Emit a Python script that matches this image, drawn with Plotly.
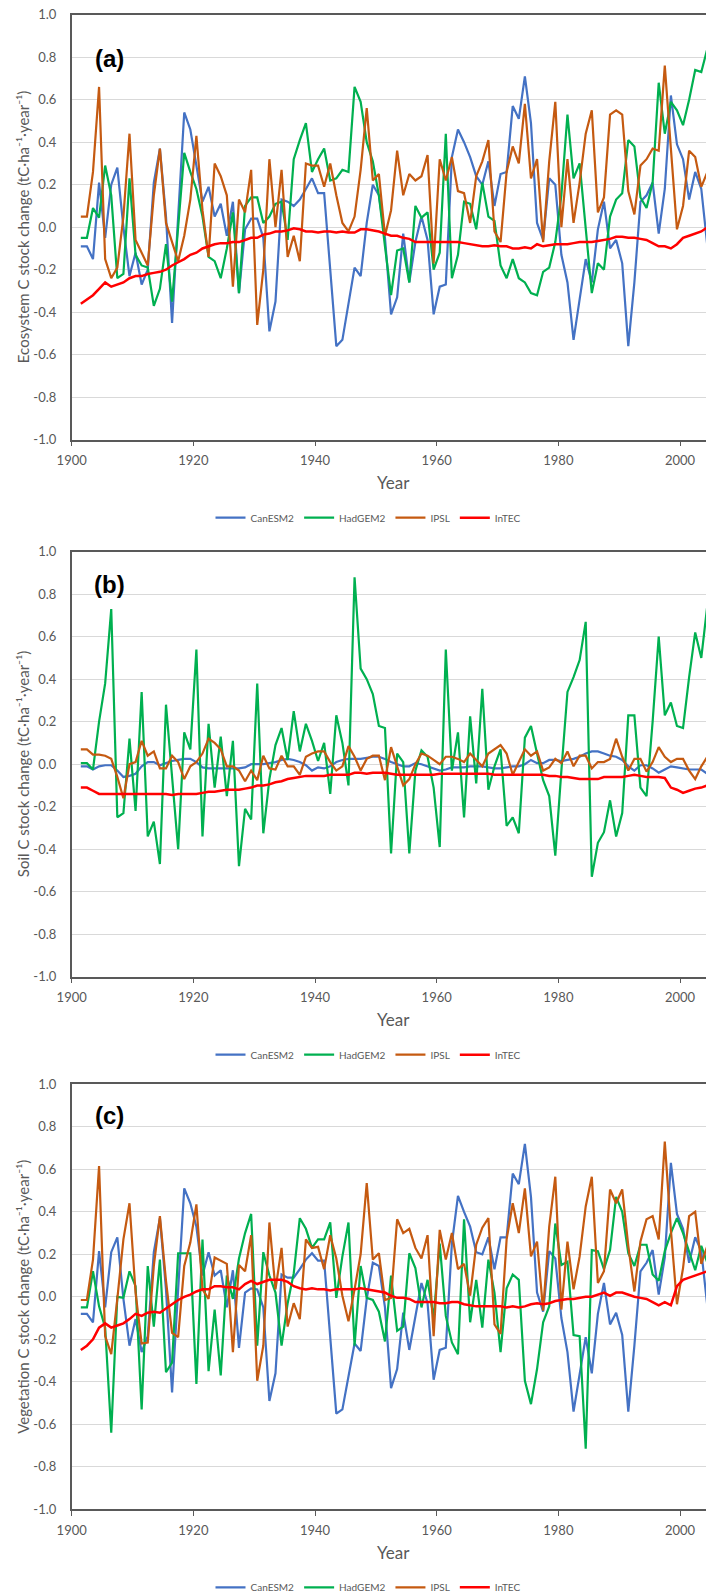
import plotly.graph_objects as go

# ---------------- data ----------------
years = list(range(1901, 2005))
series_names = ["CanESM2", "HadGEM2", "IPSL", "InTEC"]
tick_years = [1900, 1920, 1940, 1960, 1980, 2000]
tick_years_text = ["1900", "1920", "1940", "1960", "1980", "2000"]
y_ticks = [-1.0, -0.8, -0.6, -0.4, -0.2, 0.0, 0.2, 0.4, 0.6, 0.8, 1.0]
y_ticks_text = ["-1.0", "-0.8", "-0.6", "-0.4", "-0.2", "0.0", "0.2", "0.4", "0.6", "0.8", "1.0"]

# (a) Ecosystem C stock change
eco_canesm2 = [
    -0.09, -0.09, -0.15, 0.21, -0.05, 0.20, 0.28, 0.00, -0.23, -0.12,
    -0.27, -0.20, 0.21, 0.37, 0.05, -0.45, 0.05, 0.54, 0.46, 0.30,
    0.12, 0.19, 0.05, 0.11, -0.04, 0.12, -0.31, -0.01, 0.04, 0.04,
    -0.05, -0.49, -0.35, 0.13, 0.12, 0.10, 0.13, 0.18, 0.23, 0.16,
    0.16, -0.20, -0.56, -0.53, -0.35, -0.19, -0.23, 0.02, 0.20, 0.15,
    -0.05, -0.41, -0.33, -0.03, -0.26, -0.07, 0.05, -0.06, -0.41, -0.28,
    -0.27, 0.33, 0.46, 0.40, 0.33, 0.24, 0.20, 0.31, 0.10, 0.25,
    0.26, 0.57, 0.51, 0.71, 0.49, 0.02, -0.06, 0.23, 0.20, -0.13,
    -0.26, -0.53, -0.34, -0.15, -0.26, -0.01, 0.12, -0.10, -0.06, -0.17,
    -0.56, -0.26, 0.12, 0.15, 0.21, -0.03, 0.18, 0.62, 0.39, 0.32,
    0.13, 0.26, 0.18, -0.09]
eco_hadgem2 = [
    -0.05, -0.05, 0.09, 0.045, 0.29, 0.15, -0.24, -0.22, 0.23, -0.13,
    -0.18, -0.19, -0.37, -0.29, -0.08, -0.35, 0.00, 0.35, 0.26, 0.18,
    0.05, -0.14, -0.16, -0.24, -0.10, 0.07, -0.31, 0.10, 0.14, 0.14,
    0.02, 0.05, 0.11, 0.12, -0.06, 0.32, 0.41, 0.49, 0.26, 0.32,
    0.37, 0.22, 0.23, 0.27, 0.26, 0.66, 0.59, 0.40, 0.31, 0.15,
    -0.09, -0.32, -0.11, -0.10, -0.26, 0.10, 0.045, 0.07, -0.20, -0.12,
    0.44, -0.24, -0.13, 0.12, 0.11, -0.01, 0.21, 0.05, 0.03, -0.18,
    -0.24, -0.15, -0.24, -0.26, -0.31, -0.32, -0.21, -0.19, -0.07, 0.15,
    0.53, 0.23, 0.30, -0.02, -0.31, -0.17, -0.20, 0.05, 0.13, 0.16,
    0.41, 0.38, 0.14, 0.09, 0.21, 0.68, 0.44, 0.59, 0.55, 0.48,
    0.60, 0.74, 0.73, 0.84]
eco_ipsl = [
    0.05, 0.05, 0.26, 0.66, -0.15, -0.24, -0.19, 0.05, 0.44, -0.06,
    -0.12, -0.18, 0.15, 0.37, 0.02, -0.07, -0.16, -0.04, 0.13, 0.43,
    0.08, -0.14, 0.30, 0.24, 0.15, -0.28, 0.13, 0.07, 0.27, -0.46,
    -0.20, 0.32, 0.00, 0.27, -0.14, -0.04, -0.16, 0.30, 0.29, 0.29,
    0.19, 0.30, 0.15, 0.02, -0.02, 0.05, 0.27, 0.56, 0.22, 0.25,
    -0.04, 0.08, 0.36, 0.15, 0.25, 0.22, 0.24, 0.34, -0.17, 0.32,
    0.22, 0.33, 0.17, 0.16, 0.02, 0.24, 0.31, 0.41, -0.02, -0.07,
    0.26, 0.38, 0.30, 0.58, 0.23, 0.32, -0.07, 0.31, 0.59, 0.00,
    0.32, 0.02, 0.21, 0.44, 0.55, 0.07, 0.14, 0.53, 0.55, 0.53,
    0.17, 0.06, 0.29, 0.32, 0.37, 0.36, 0.76, 0.37, -0.01, 0.10,
    0.36, 0.33, 0.19, 0.26]
eco_intec = [
    -0.36, -0.34, -0.32, -0.29, -0.26, -0.28, -0.27, -0.26, -0.24, -0.23,
    -0.23, -0.22, -0.215, -0.21, -0.20, -0.18, -0.165, -0.15, -0.13, -0.12,
    -0.10, -0.09, -0.08, -0.075, -0.075, -0.07, -0.07, -0.06, -0.05, -0.05,
    -0.035, -0.03, -0.02, -0.02, -0.015, -0.005, -0.01, -0.02, -0.02, -0.025,
    -0.02, -0.02, -0.025, -0.02, -0.025, -0.025, -0.01, -0.01, -0.015, -0.02,
    -0.03, -0.04, -0.04, -0.05, -0.055, -0.07, -0.07, -0.07, -0.07, -0.07,
    -0.07, -0.07, -0.07, -0.075, -0.08, -0.085, -0.09, -0.09, -0.085, -0.09,
    -0.09, -0.10, -0.10, -0.095, -0.10, -0.08, -0.09, -0.085, -0.08, -0.08,
    -0.08, -0.075, -0.07, -0.07, -0.07, -0.065, -0.06, -0.055, -0.045, -0.045,
    -0.05, -0.05, -0.055, -0.06, -0.075, -0.09, -0.09, -0.10, -0.08, -0.05,
    -0.04, -0.03, -0.02, 0.00]

# (b) Soil C stock change
soil_canesm2 = [
    -0.01, -0.01, -0.025, -0.01, -0.005, -0.005, -0.03, -0.06, -0.055, -0.045,
    -0.01, 0.01, 0.01, -0.005, 0.005, 0.015, 0.02, 0.025, 0.025, 0.01,
    -0.015, -0.02, -0.02, -0.02, -0.02, -0.02, -0.02, -0.015, 0.00, 0.00,
    0.00, 0.005, 0.01, 0.02, 0.025, 0.02, 0.01, -0.005, -0.03, -0.015,
    -0.02, -0.01, 0.01, 0.02, 0.025, 0.025, 0.025, 0.03, 0.035, 0.035,
    0.025, 0.01, 0.00, -0.01, -0.01, 0.005, 0.00, -0.01, -0.02, -0.03,
    -0.025, -0.015, -0.015, -0.015, -0.01, -0.01, -0.01, -0.015, -0.02, -0.02,
    -0.015, -0.01, -0.01, 0.00, 0.02, 0.005, 0.005, 0.02, 0.02, 0.015,
    0.02, 0.025, 0.035, 0.05, 0.06, 0.06, 0.05, 0.04, 0.035, 0.02,
    -0.01, -0.03, -0.005, -0.005, -0.02, -0.04, -0.025, -0.01, -0.015, -0.02,
    -0.025, -0.025, -0.025, -0.045]
soil_hadgem2 = [
    0.005, 0.005, -0.025, 0.20, 0.38, 0.73, -0.25, -0.23, 0.12, -0.22,
    0.34, -0.34, -0.27, -0.47, 0.28, -0.075, -0.40, 0.15, 0.07, 0.54,
    -0.34, 0.19, -0.11, 0.13, -0.15, 0.11, -0.48, -0.21, -0.26, 0.38,
    -0.325, -0.07, 0.09, 0.17, 0.02, 0.25, 0.06, 0.19, 0.11, 0.015,
    0.10, -0.14, 0.23, 0.10, -0.10, 0.88, 0.45, 0.40, 0.33, 0.18,
    0.17, -0.42, 0.05, 0.01, -0.42, -0.03, 0.065, 0.035, -0.11, -0.39,
    0.54, -0.03, 0.15, -0.25, 0.225, -0.09, 0.355, -0.12, -0.01, 0.07,
    -0.29, -0.25, -0.325, 0.125, 0.18, 0.05, -0.075, -0.15, -0.43, -0.03,
    0.34, 0.41, 0.49, 0.67, -0.53, -0.37, -0.32, -0.17, -0.34, -0.23,
    0.23, 0.23, -0.11, -0.15, 0.20, 0.60, 0.23, 0.29, 0.18, 0.17,
    0.41, 0.62, 0.50, 0.75]
soil_ipsl = [
    0.07, 0.07, 0.045, 0.045, 0.04, 0.025, -0.06, -0.16, 0.00, 0.01,
    0.11, 0.04, 0.06, -0.02, -0.02, 0.04, 0.01, -0.07, -0.01, 0.01,
    0.05, 0.12, 0.10, 0.07, -0.01, -0.01, -0.03, -0.08, -0.03, -0.075,
    0.04, -0.02, -0.025, 0.04, -0.01, -0.01, -0.05, 0.035, 0.05, 0.06,
    0.06, 0.01, -0.03, -0.01, 0.085, 0.035, -0.03, 0.025, 0.04, 0.04,
    -0.075, 0.08, -0.01, -0.10, -0.07, 0.00, 0.05, 0.04, 0.02, 0.00,
    0.035, 0.035, 0.025, 0.01, 0.05, 0.02, -0.01, 0.05, 0.07, 0.09,
    0.05, -0.05, 0.01, 0.07, 0.04, 0.06, -0.03, -0.015, 0.025, 0.005,
    0.06, -0.01, 0.04, 0.04, -0.02, 0.01, 0.01, 0.025, 0.12, 0.035,
    -0.03, 0.025, 0.025, -0.035, 0.01, 0.08, 0.035, 0.01, 0.025, 0.025,
    -0.03, -0.07, -0.01, 0.035]
soil_intec = [
    -0.11, -0.11, -0.125, -0.14, -0.14, -0.14, -0.14, -0.14, -0.14, -0.14,
    -0.14, -0.14, -0.14, -0.14, -0.14, -0.145, -0.14, -0.14, -0.14, -0.14,
    -0.135, -0.13, -0.13, -0.125, -0.12, -0.12, -0.12, -0.115, -0.11, -0.10,
    -0.10, -0.095, -0.085, -0.08, -0.07, -0.065, -0.06, -0.055, -0.055, -0.055,
    -0.055, -0.05, -0.05, -0.05, -0.05, -0.04, -0.04, -0.045, -0.04, -0.04,
    -0.04, -0.045, -0.05, -0.05, -0.05, -0.05, -0.05, -0.05, -0.05, -0.045,
    -0.045, -0.045, -0.045, -0.045, -0.045, -0.045, -0.045, -0.045, -0.05, -0.05,
    -0.05, -0.05, -0.05, -0.05, -0.05, -0.05, -0.05, -0.055, -0.055, -0.06,
    -0.06, -0.065, -0.07, -0.07, -0.07, -0.07, -0.06, -0.06, -0.06, -0.06,
    -0.055, -0.05, -0.055, -0.06, -0.06, -0.06, -0.065, -0.11, -0.12, -0.135,
    -0.125, -0.115, -0.11, -0.10]

# (c) Vegetation C stock change
veg_canesm2 = [
    -0.08, -0.08, -0.12, 0.215, -0.05, 0.21, 0.28, -0.01, -0.23, -0.105,
    -0.26, -0.185, 0.21, 0.37, 0.035, -0.45, 0.035, 0.51, 0.44, 0.33,
    0.10, 0.21, 0.10, 0.125, -0.05, 0.125, -0.24, 0.02, 0.04, 0.035,
    -0.05, -0.49, -0.36, 0.105, 0.09, 0.09, 0.13, 0.175, 0.205, 0.17,
    0.17, -0.17, -0.55, -0.53, -0.365, -0.22, -0.255, -0.01, 0.16, 0.145,
    -0.05, -0.43, -0.34, -0.075, -0.25, -0.09, 0.065, -0.03, -0.39, -0.25,
    -0.24, 0.25, 0.475, 0.40, 0.33, 0.21, 0.20, 0.28, 0.13, 0.28,
    0.28, 0.58, 0.53, 0.72, 0.47, 0.02, -0.07, 0.215, 0.18, -0.10,
    -0.26, -0.54, -0.37, -0.19, -0.36, -0.08, 0.065, -0.13, -0.075, -0.18,
    -0.54, -0.23, 0.12, 0.16, 0.22, 0.01, 0.185, 0.63, 0.39, 0.32,
    0.16, 0.28, 0.215, -0.045]
veg_hadgem2 = [
    -0.05, -0.05, 0.12, -0.045, -0.145, -0.64, 0.00, -0.005, 0.12, 0.05,
    -0.53, 0.145, -0.14, 0.175, -0.355, -0.31, 0.205, 0.205, 0.205, -0.41,
    0.27, -0.35, -0.06, -0.37, 0.10, -0.01, 0.18, 0.30, 0.39, -0.23,
    0.21, 0.10, 0.02, -0.23, -0.03, 0.11, 0.37, 0.32, 0.23, 0.27,
    0.27, 0.35, -0.005, 0.19, 0.35, -0.23, 0.145, -0.005, -0.015, -0.07,
    -0.21, 0.10, -0.16, -0.14, 0.205, 0.135, -0.05, 0.08, -0.10, 0.25,
    -0.09, -0.215, -0.27, 0.365, -0.12, 0.08, -0.145, 0.175, 0.02, -0.26,
    0.04, 0.105, 0.08, -0.395, -0.505, -0.34, -0.12, -0.045, 0.345, 0.15,
    0.165, -0.18, -0.185, -0.715, 0.22, 0.215, 0.13, 0.22, 0.47, 0.40,
    0.205, 0.145, 0.245, 0.245, 0.105, 0.075, 0.215, 0.30, 0.37, 0.30,
    0.215, 0.125, 0.24, 0.16]
veg_ipsl = [
    -0.015, -0.015, 0.175, 0.615, -0.185, -0.27, -0.01, 0.27, 0.44, 0.02,
    -0.22, -0.215, 0.145, 0.38, 0.075, -0.17, -0.19, 0.145, 0.255, 0.435,
    0.035, -0.01, 0.185, 0.17, 0.155, -0.26, 0.15, 0.12, 0.29, -0.395,
    -0.23, 0.35, 0.035, 0.23, -0.14, -0.03, -0.105, 0.27, 0.23, 0.235,
    0.13, 0.29, 0.18, 0.005, -0.115, 0.035, 0.20, 0.535, 0.175, 0.205,
    -0.015, -0.005, 0.365, 0.30, 0.32, 0.23, 0.18, 0.29, -0.185, 0.315,
    0.175, 0.30, 0.13, 0.155, 0.005, 0.245, 0.325, 0.37, -0.13, -0.175,
    0.27, 0.44, 0.30, 0.51, 0.19, 0.26, -0.065, 0.33, 0.565, -0.06,
    0.26, 0.035, 0.19, 0.425, 0.565, 0.065, 0.12, 0.505, 0.44, 0.505,
    0.24, 0.025, 0.26, 0.365, 0.38, 0.27, 0.73, 0.315, -0.035, 0.135,
    0.38, 0.40, 0.155, 0.24]
veg_intec = [
    -0.25, -0.23, -0.20, -0.145, -0.125, -0.145, -0.135, -0.125, -0.105, -0.08,
    -0.09, -0.075, -0.07, -0.075, -0.055, -0.035, -0.015, 0.00, 0.01, 0.025,
    0.035, 0.035, 0.05, 0.05, 0.045, 0.045, 0.035, 0.06, 0.075, 0.06,
    0.07, 0.08, 0.08, 0.08, 0.07, 0.05, 0.04, 0.035, 0.04, 0.035,
    0.035, 0.03, 0.035, 0.035, 0.035, 0.035, 0.04, 0.035, 0.03, 0.025,
    0.02, 0.005, -0.005, -0.005, -0.01, -0.025, -0.025, -0.025, -0.025, -0.03,
    -0.03, -0.025, -0.025, -0.035, -0.04, -0.045, -0.045, -0.045, -0.045, -0.045,
    -0.05, -0.045, -0.05, -0.045, -0.035, -0.03, -0.035, -0.03, -0.02, -0.015,
    -0.01, -0.01, -0.005, 0.00, 0.00, 0.01, 0.02, 0.005, 0.02, 0.02,
    0.01, 0.00, -0.005, -0.01, -0.025, -0.04, -0.025, -0.04, 0.05, 0.08,
    0.09, 0.10, 0.11, 0.12]

# ---------------- styling ----------------
colors = ["#4472C4", "#00B050", "#C55A11", "#FF0000"]
line_widths = [2.2, 2.2, 2.2, 2.5]
FONT = "Lato"
GREY = "#595959"
UNIT = "(tC·ha⁻¹·year⁻¹)"

panels = [
    dict(label="(a)", label_y=58.5, ytitle="Ecosystem C stock change " + UNIT,
         series=[eco_canesm2, eco_hadgem2, eco_ipsl, eco_intec]),
    dict(label="(b)", label_y=584.0, ytitle="Soil C stock change " + UNIT,
         series=[soil_canesm2, soil_hadgem2, soil_ipsl, soil_intec]),
    dict(label="(c)", label_y=1115.0, ytitle="Vegetation C stock change " + UNIT,
         series=[veg_canesm2, veg_hadgem2, veg_ipsl, veg_intec]),
]

W, H = 706, 1595
X_LEFT = 71.7
TOPS = [14.7, 551.7, 1084.3]
PLOT_H = 425.0
X_END = 1900 + (W - X_LEFT) / 6.083

x_vals = [yr + 0.5 for yr in years]  # annual values shown at mid-year

fig = go.Figure()
layout = dict(width=W, height=H,
              margin=dict(l=0, r=0, t=0, b=0, pad=0, autoexpand=False),
              paper_bgcolor="white", plot_bgcolor="white",
              font=dict(family=FONT, color=GREY), annotations=[])

for i, p in enumerate(panels):
    n = "" if i == 0 else str(i + 1)
    legend_name = "legend" + n
    for name, vals, c, lw in zip(series_names, p["series"], colors, line_widths):
        fig.add_trace(go.Scatter(
            x=x_vals, y=vals, mode="lines", name=name,
            line=dict(color=c, width=lw),
            xaxis="x" + n, yaxis="y" + n, legend=legend_name))
    top = TOPS[i]
    bottom = top + PLOT_H
    layout["xaxis" + n] = dict(
        domain=[X_LEFT / W, 1.0], anchor="y" + n, range=[1900, X_END],
        automargin=False,
        tickmode="array", tickvals=tick_years, ticktext=tick_years_text,
        ticks="outside", ticklen=5, tickwidth=1, tickcolor=GREY,
        showline=True, linecolor=GREY, linewidth=1.5, mirror=True,
        showgrid=False, zeroline=False, ticklabelstandoff=3,
        tickfont=dict(family=FONT, size=13, color=GREY))
    layout["yaxis" + n] = dict(
        domain=[1 - bottom / H, 1 - top / H], anchor="x" + n, range=[-1, 1],
        automargin=False,
        tickmode="array", tickvals=y_ticks, ticktext=y_ticks_text,
        ticks="", showline=True, linecolor=GREY, linewidth=1.5,
        showgrid=True, gridcolor="#D9D9D9", gridwidth=1, zeroline=False,
        ticklabelstandoff=11,
        tickfont=dict(family=FONT, size=13, color=GREY))
    layout[legend_name] = dict(
        orientation="h", x=368 / W, xanchor="center",
        y=1 - (bottom + 78) / H, yanchor="middle",
        font=dict(family=FONT, size=10, color=GREY),
        bgcolor="rgba(0,0,0,0)", itemwidth=30, tracegroupgap=0)
    layout["annotations"] += [
        dict(text=p["ytitle"], textangle=-90, xref="paper", yref="paper",
             x=23 / W, y=1 - (top + PLOT_H / 2) / H, showarrow=False,
             xanchor="center", yanchor="middle",
             font=dict(family=FONT, size=15, color=GREY)),
        dict(text="Year", xref="paper", yref="paper",
             x=393.7 / W, y=1 - (bottom + 43) / H, showarrow=False,
             xanchor="center", yanchor="middle",
             font=dict(family=FONT, size=17, color=GREY)),
        dict(text=p["label"], xref="paper", yref="paper",
             x=109 / W, y=1 - p["label_y"] / H, showarrow=False,
             xanchor="center", yanchor="middle",
             font=dict(family="Liberation Sans", size=24, color="black",
                       weight="bold")),
    ]

fig.update_layout(**layout)
# remove the browser's default page margin so the 706x1595 figure fills the window exactly
fig.write_html("out.html",
               config={"displayModeBar": False},
               post_script="document.body.style.margin='0';"
                           "document.documentElement.style.overflow='hidden';")
